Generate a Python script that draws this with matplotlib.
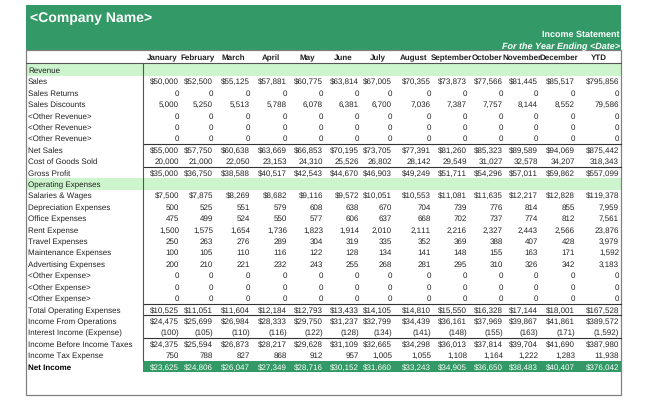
import matplotlib
matplotlib.use("Agg")
import matplotlib.pyplot as plt
from matplotlib.patches import Rectangle

plt.rcParams['font.family'] = ['Liberation Sans', 'DejaVu Sans']
plt.rcParams['text.hinting'] = 'none'
plt.rcParams['text.hinting_factor'] = 1

months = ['January', 'February', 'March', 'April', 'May', 'June', 'July',
          'August', 'September', 'October', 'November', 'December', 'YTD']

row_labels = [
    'Revenue', 'Sales', 'Sales Returns', 'Sales Discounts', '<Other Revenue>',
    '<Other Revenue>', '<Other Revenue>', 'Net Sales', 'Cost of Goods Sold',
    'Gross Profit', 'Operating Expenses', 'Salaries & Wages',
    'Depreciation Expenses', 'Office Expenses', 'Rent Expense', 'Travel Expenses',
    'Maintenance Expenses', 'Advertising Expenses', '<Other Expense>',
    '<Other Expense>', '<Other Expense>', 'Total Operating Expenses',
    'Income From Operations', 'Interest Income (Expense)',
    'Income Before Income Taxes', 'Income Tax Expense', 'Net Income',
]

sales = [50000, 52500, 55125, 57881, 60775, 63814, 67005, 70355, 73873, 77566, 81445, 85517, 795856]
zeros = [0] * 13
discounts = [5000, 5250, 5513, 5788, 6078, 6381, 6700, 7036, 7387, 7757, 8144, 8552, 79586]
net_sales = [55000, 57750, 60638, 63669, 66853, 70195, 73705, 77391, 81260, 85323, 89589, 94069, 875442]
cogs = [20000, 21000, 22050, 23153, 24310, 25526, 26802, 28142, 29549, 31027, 32578, 34207, 318343]
gross_profit = [35000, 36750, 38588, 40517, 42543, 44670, 46903, 49249, 51711, 54296, 57011, 59862, 557099]
salaries = [7500, 7875, 8269, 8682, 9116, 9572, 10051, 10553, 11081, 11635, 12217, 12828, 119378]
depreciation = [500, 525, 551, 579, 608, 638, 670, 704, 739, 776, 814, 855, 7959]
office = [475, 499, 524, 550, 577, 606, 637, 668, 702, 737, 774, 812, 7561]
rent = [1500, 1575, 1654, 1736, 1823, 1914, 2010, 2111, 2216, 2327, 2443, 2566, 23876]
travel = [250, 263, 276, 289, 304, 319, 335, 352, 369, 388, 407, 428, 3979]
maintenance = [100, 105, 110, 116, 122, 128, 134, 141, 148, 155, 163, 171, 1592]
advertising = [200, 210, 221, 232, 243, 255, 268, 281, 295, 310, 326, 342, 3183]
total_opex = [10525, 11051, 11604, 12184, 12793, 13433, 14105, 14810, 15550, 16328, 17144, 18001, 167528]
income_ops = [24475, 25699, 26984, 28333, 29750, 31237, 32799, 34439, 36161, 37969, 39867, 41861, 389572]
interest = [-100, -105, -110, -116, -122, -128, -134, -141, -148, -155, -163, -171, -1592]
income_before_tax = [24375, 25594, 26873, 28217, 29628, 31109, 32665, 34298, 36013, 37814, 39704, 41690, 387980]
income_tax = [750, 788, 827, 868, 912, 957, 1005, 1055, 1108, 1164, 1222, 1283, 11938]
net_income = [23625, 24806, 26047, 27349, 28716, 30152, 31660, 33243, 34905, 36650, 38483, 40407, 376042]

# None = section header row; (values, dollar sign)
row_values = [
    None, (sales, True), (zeros, False), (discounts, False), (zeros, False),
    (zeros, False), (zeros, False), (net_sales, True), (cogs, False),
    (gross_profit, True), None, (salaries, True), (depreciation, False),
    (office, False), (rent, False), (travel, False), (maintenance, False),
    (advertising, False), (zeros, False), (zeros, False), (zeros, False),
    (total_opex, True), (income_ops, True), (interest, False),
    (income_before_tax, True), (income_tax, False), (net_income, True),
]

rule_above = ['Net Sales', 'Gross Profit', 'Total Operating Expenses',
              'Income From Operations', 'Income Before Income Taxes']

GREEN = '#339966'
LIGHT = '#cdf5cd'
TXT = '#222222'
FS = 5.6

col_edges = [143, 181, 215, 252, 289, 325, 361, 394, 433, 469, 505, 540, 577, 621]
left, right = 26, 621
row0, row_h = 64.3, 11.41
base_off = 2.9  # baseline below row centre


def fmt(v, dollar):
    if v < 0:
        return f'({-v:,})'
    s = f'{v:,}'
    return '$' + s if dollar else s


fig = plt.figure(figsize=(6.5, 4), dpi=100)
ax = fig.add_axes([0, 0, 1, 1])
ax.set_xlim(0, 650)
ax.set_ylim(400, 0)
ax.axis('off')

# title block
ax.add_patch(Rectangle((left, 5), right - left, 45, color=GREEN, lw=0))
ax.text(30, 22, '<Company Name>', color='white', fontsize=10, fontweight='bold', va='baseline')
ax.text(right - 1, 37, 'Income Statement', color='white', fontsize=6.8,
        fontweight='bold', ha='right', va='baseline')
ax.text(right - 1, 49, 'For the Year Ending <Date>', color='white', fontsize=6.7,
        fontweight='bold', style='italic', ha='right', va='baseline')

# column headers, clipped to their cells like the spreadsheet
for i, m in enumerate(months):
    x0, x1 = col_edges[i], col_edges[i + 1]
    t = ax.text((x0 + x1) / 2, 60, m, fontsize=FS, fontweight='bold', color=TXT,
                ha='center', va='baseline')
    clip = Rectangle((x0, 50), x1 - x0, 13, transform=ax.transData, visible=False)
    ax.add_patch(clip)
    t.set_clip_path(clip)

for r, (label, vals) in enumerate(zip(row_labels, row_values)):
    top = row0 + r * row_h
    yb = round(top + row_h / 2 + base_off)
    if vals is None:
        ax.add_patch(Rectangle((left, top), right - left, row_h, color=LIGHT, lw=0))
        ax.text(28, yb, label, fontsize=FS, color=TXT, va='baseline')
        continue
    if label in rule_above:
        ax.plot([col_edges[0], right], [top, top], color='#333333', lw=0.8)
    last = label == 'Net Income'
    if last:
        ax.add_patch(Rectangle((col_edges[0], top), right - col_edges[0], row_h,
                               color=GREEN, lw=0))
    ax.text(28, yb, label, fontsize=FS, color='black' if last else TXT, va='baseline',
            fontweight='bold' if last else 'normal')
    values, dollar = vals
    for i, v in enumerate(values):
        ax.text(col_edges[i + 1] - 2, yb, fmt(v, dollar), fontsize=FS,
                color='white' if last else TXT, ha='right', va='baseline')

# grid frame
bottom_row = row0 + len(row_labels) * row_h
ax.plot([left, right], [row0 - 1, row0 - 1], color='#555555', lw=0.8)
ax.plot([col_edges[0], col_edges[0]], [row0 - 1, bottom_row - row_h], color='#555555', lw=0.8)
ax.add_patch(Rectangle((left, 50), right - left, 345, fill=False, ec='#808080', lw=0.9))

fig.savefig('out.png', dpi=100)
